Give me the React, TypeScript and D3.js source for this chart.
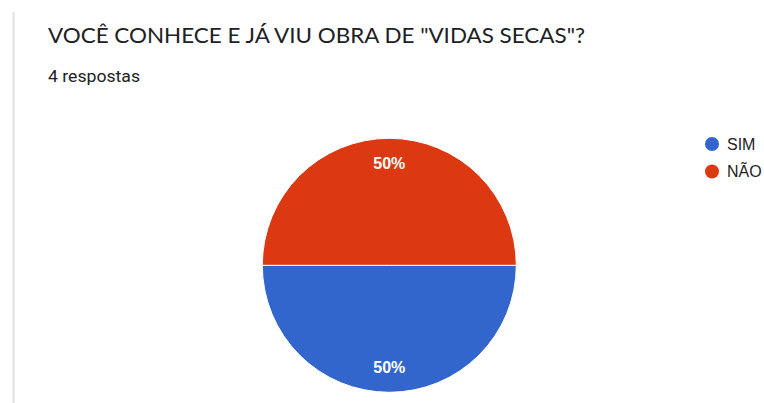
import React from "react";
import * as d3 from "d3";

const categories = ["SIM", "NÃO"];
const values = [2, 2];
const colors = ["#3366cc", "#dc3912"];
const title = 'VOCÊ CONHECE E JÁ VIU OBRA DE "VIDAS SECAS"?';
const subtitle = "4 respostas";

export default function App() {
  const W = 764, H = 403;
  const cx = 389.3, cy = 265.3, r = 127;
  const data = categories.map((c, i) => ({ c, v: values[i], color: colors[i] }));
  const pie = d3.pie<any>().value((d: any) => d.v).sort(null).startAngle(Math.PI / 2).endAngle(Math.PI / 2 + 2 * Math.PI);
  const arcs = pie(data);
  const arc = d3.arc<any>().innerRadius(0).outerRadius(r);
  const labelArc = d3.arc<any>().innerRadius(r * 0.8).outerRadius(r * 0.8);
  const total = d3.sum(values);
  const font = "'Liberation Sans', Arial, sans-serif";
  return (
    <svg width={W} height={H} style={{ position: "absolute", left: 0, top: 0, background: "#fff" }}>
      <rect x={12.5} y={12} width={2} height={H - 12} fill="#e0e0e0" />
      <text x={48} y={43} fontFamily="Lato, Roboto, Arial, sans-serif" fontSize={21} fill="#202124" textLength={537} lengthAdjust="spacingAndGlyphs">{title}</text>
      <text x={48} y={81.5} fontFamily="Roboto, Arial, sans-serif" fontSize={16} fill="#202124" textLength={92} lengthAdjust="spacingAndGlyphs">{subtitle}</text>
      <g transform={`translate(${cx},${cy})`}>
        {arcs.map((a, i) => (
          <path key={i} d={arc(a) as string} fill={a.data.color} stroke="#fff" strokeWidth={1} />
        ))}
        {arcs.map((a, i) => {
          const [x, y] = labelArc.centroid(a);
          return (
            <text key={"l" + i} x={x} y={y} dy="0.36em" textAnchor="middle" fontFamily={font} fontSize={16} fontWeight={700} fill="#fff">
              {d3.format(".0%")(a.data.v / total)}
            </text>
          );
        })}
      </g>
      {data.map((d, i) => (
        <g key={d.c} transform={`translate(712,${144 + i * 27.5})`}>
          <circle r={7} fill={d.color} />
          <text x={15} y={0} dy="0.36em" fontFamily={font} fontSize={16} fill="#222">{d.c}</text>
        </g>
      ))}
    </svg>
  );
}
